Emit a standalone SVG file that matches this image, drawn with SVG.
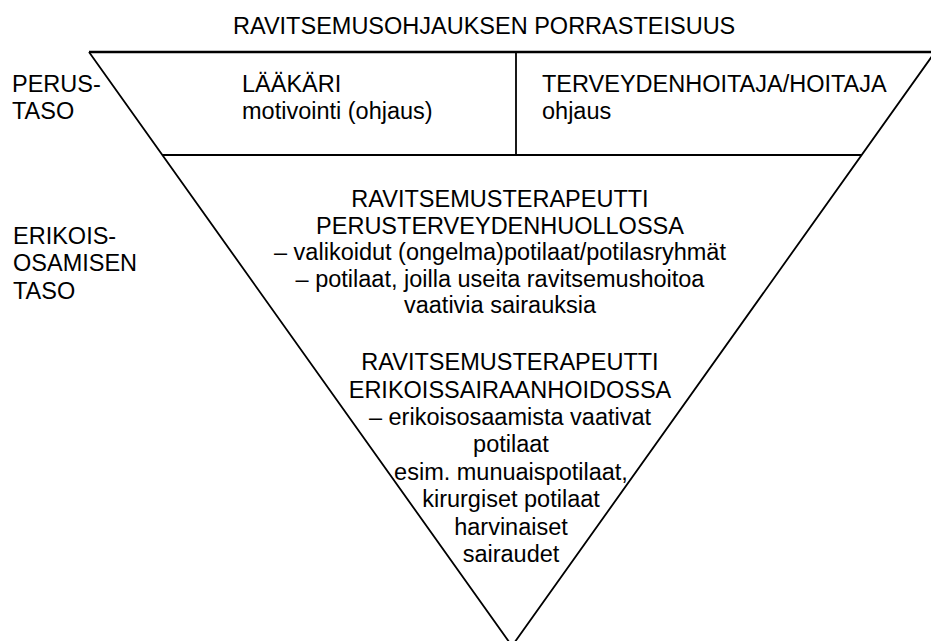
<svg xmlns="http://www.w3.org/2000/svg" width="931" height="641" viewBox="0 0 931 641">
<style>
text{font-family:"Liberation Sans",Arial,sans-serif;font-size:23.5px;fill:#000}
.c{text-anchor:middle}
.ln{stroke:#000;stroke-width:1.8;fill:none}
.top{stroke:#000;stroke-width:2.6;fill:none}
</style>
<rect width="931" height="641" fill="#fff"/>
<g id="connectors">
<polyline class="ln" points="89,52 512,646 935,52"/>
<line class="top" x1="89" y1="52" x2="935" y2="52"/>
<line class="ln" x1="516" y1="52" x2="516" y2="155"/>
<line class="ln" x1="162" y1="155" x2="862" y2="155"/>
</g>
<g id="title"><text x="233" y="33.5">RAVITSEMUSOHJAUKSEN PORRASTEISUUS</text></g>
<g id="perustaso"><text x="12" y="92">PERUS-</text><text x="12" y="119">TASO</text></g>
<g id="erikoistaso"><text x="13" y="243.5">ERIKOIS-</text><text x="13" y="271">OSAMISEN</text><text x="13" y="298.5">TASO</text></g>
<g id="laakari"><text x="242" y="92">LÄÄKÄRI</text><text x="242" y="119">motivointi (ohjaus)</text></g>
<g id="terveydenhoitaja"><text x="542" y="92">TERVEYDENHOITAJA/HOITAJA</text><text x="542" y="119">ohjaus</text></g>
<g id="perusterveydenhuolto">
<text class="c" x="500" y="206.5">RAVITSEMUSTERAPEUTTI</text>
<text class="c" x="500" y="233.5">PERUSTERVEYDENHUOLLOSSA</text>
<text class="c" x="500" y="260">– valikoidut (ongelma)potilaat/potilasryhmät</text>
<text class="c" x="500" y="286.5">– potilaat, joilla useita ravitsemushoitoa</text>
<text class="c" x="500" y="313">vaativia sairauksia</text>
</g>
<g id="erikoissairaanhoito">
<text class="c" x="510" y="370">RAVITSEMUSTERAPEUTTI</text>
<text class="c" x="510" y="397.5">ERIKOISSAIRAANHOIDOSSA</text>
<text class="c" x="510" y="425">– erikoisosaamista vaativat</text>
<text class="c" x="511" y="452">potilaat</text>
<text class="c" x="511" y="479.5">esim. munuaispotilaat,</text>
<text class="c" x="511" y="507">kirurgiset potilaat</text>
<text class="c" x="511" y="534.5">harvinaiset</text>
<text class="c" x="511" y="562">sairaudet</text>
</g>
</svg>
